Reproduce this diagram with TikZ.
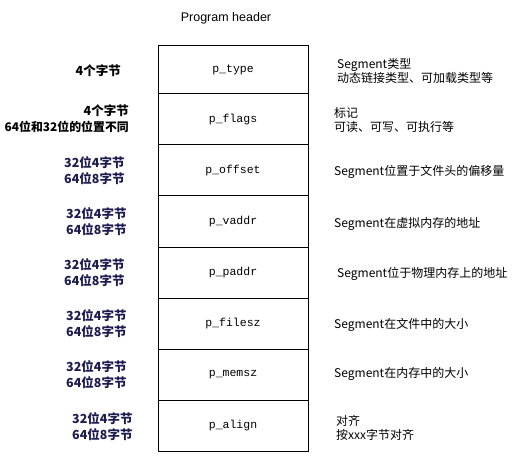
\documentclass[tikz,border=0pt]{standalone}
\usepackage{fontspec}
\newfontfamily\cjk{Noto Sans CJK SC}
\newfontfamily\mono{Liberation Mono}
\newfontfamily\lat{Liberation Sans}
\definecolor{navy}{HTML}{1C1C50}
\begin{document}
\begin{tikzpicture}[x=1pt,y=-1pt,
  field/.style={draw=black,line width=1pt,minimum width=150pt,minimum height=51pt,inner sep=0pt,outer sep=0pt,anchor=north,font=\mono\fontsize{11.5}{12}\selectfont},
  size/.style={font=\cjk\bfseries\fontsize{12.5}{16}\selectfont,align=right,anchor=east,inner sep=0pt},
  size32/.style={size,text=navy,align=left,anchor=west},
  desc/.style={font=\cjk\fontsize{12}{14}\selectfont,align=left,anchor=west,inner sep=0pt}]
\useasboundingbox (0,0) rectangle (521,462);
\node[font=\lat\fontsize{12.5}{14}\selectfont] (title) at (226,18) {Program header};
\node[field,minimum height=48pt] (r1) at (233,46) {p\_type};
\node[field] (r2) at (r1.south) {p\_flags};
\node[field] (r3) at (r2.south) {p\_offset};
\node[field] (r4) at (r3.south) {p\_vaddr};
\node[field] (r5) at (r4.south) {p\_paddr};
\node[field] (r6) at (r5.south) {p\_filesz};
\node[field] (r7) at (r6.south) {p\_memsz};
\node[field] (r8) at (r7.south) {p\_align};
% left labels
\node[size] (l1) at (121,71) {4个字节};
\node[size] (l2) at (129,119) {4个字节\\{\fontsize{11.9}{16}\selectfont 64位和32位的位置不同}};
\node[size32] (l3) at (64,171) {32位4字节\\64位8字节};
\node[size32] (l4) at (66,222) {32位4字节\\64位8字节};
\node[size32] (l5) at (64,273) {32位4字节\\64位8字节};
\node[size32] (l6) at (66,324) {32位4字节\\64位8字节};
\node[size32] (l7) at (66,375) {32位4字节\\64位8字节};
\node[size32] (l8) at (72,427) {32位4字节\\64位8字节};
% right descriptions
\node[desc] (d1) at (337,71) {Segment类型\\动态链接类型、可加载类型等};
\node[desc] (d2) at (334,120) {标记\\可读、可写、可执行等};
\node[desc] (d3) at (334,172) {Segment位置于文件头的偏移量};
\node[desc] (d4) at (334,224) {Segment在虚拟内存的地址};
\node[desc] (d5) at (337,274) {Segment位于物理内存上的地址};
\node[desc] (d6) at (334,325) {Segment在文件中的大小};
\node[desc] (d7) at (334,374) {Segment在内存中的大小};
\node[desc] (d8) at (336,428) {对齐\\按xxx字节对齐};
\end{tikzpicture}
\end{document}
